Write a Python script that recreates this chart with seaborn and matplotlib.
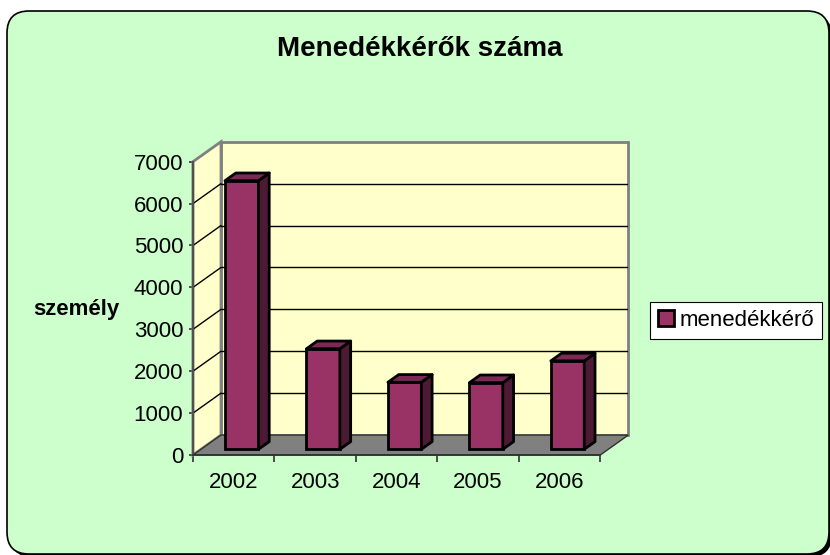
import matplotlib
matplotlib.use('Agg')
import matplotlib.pyplot as plt
from matplotlib.patches import Polygon, FancyBboxPatch, Patch
import seaborn as sns
import pandas as pd

# ==================== DATA ====================
years = ['2002', '2003', '2004', '2005', '2006']
counts = [6410, 2400, 1600, 1590, 2110]
yticks = [0, 1000, 2000, 3000, 4000, 5000, 6000, 7000]
title = 'Menedékkérők száma'
ylabel = 'személy'
series_name = 'menedékkérő'

# ==================== STYLE ====================
sns.set_style('white')
plt.rcParams['font.family'] = ['Liberation Sans', 'DejaVu Sans']
plt.rcParams['text.color'] = 'black'
plt.rcParams['xtick.labelcolor'] = 'black'
plt.rcParams['ytick.labelcolor'] = 'black'

BG = '#CCFFCC'
WALL = '#FFFFCC'
FLOOR = '#808080'
FACE = '#993366'
SIDE = '#4D1A33'
TOP = '#7A2A55'

# 3D depth offset (category units, data units)
DX, DY = 0.344, 476
BAR_FRONT = 0.285   # where the bar's front face sits in the depth
BAR_DEPTH = 0.385   # how deep the bar is

fig = plt.figure(figsize=(8.3, 5.55), dpi=100)
fig.patch.set_facecolor('white')

# chart area: rounded green box with a little shadow (behind the axes)
shadow = FancyBboxPatch((0.10, -0.02), 8.22, 5.43, boxstyle='round,pad=0,rounding_size=0.22',
                        transform=fig.dpi_scale_trans, facecolor='black', edgecolor='none',
                        zorder=-2)
box = FancyBboxPatch((0.07, 0.01), 8.22, 5.43, boxstyle='round,pad=0,rounding_size=0.22',
                     transform=fig.dpi_scale_trans, facecolor=BG, edgecolor='black', linewidth=1.2,
                     zorder=-1)
fig.add_artist(shadow)
fig.add_artist(box)

ax = fig.add_axes([193 / 830, 100 / 555, (628.3 - 193) / 830, (455 - 141.7) / 555])
ax.patch.set_visible(False)

top = yticks[-1]

# walls and floor
back = Polygon([(-0.5 + DX, DY), (4.5 + DX, DY), (4.5 + DX, top + DY), (-0.5 + DX, top + DY)],
               closed=True, facecolor=WALL, edgecolor='#808080', linewidth=2, zorder=0.5, clip_on=False)
left = Polygon([(-0.5, 0), (-0.5 + DX, DY), (-0.5 + DX, top + DY), (-0.5, top)],
               closed=True, facecolor=WALL, edgecolor='#808080', linewidth=2, zorder=0.6, clip_on=False)
floor = Polygon([(-0.5, 0), (4.5, 0), (4.5 + DX, DY), (-0.5 + DX, DY)],
                closed=True, facecolor=FLOOR, edgecolor='#303030', linewidth=1, zorder=1, clip_on=False)
for p in (back, left, floor):
    ax.add_patch(p)

for v in yticks[1:-1]:
    ax.plot([-0.5 + DX, 4.5 + DX], [v + DY, v + DY], color='black', linewidth=1, zorder=0.8)
    ax.plot([-0.5, -0.5 + DX], [v, v + DY], color='black', linewidth=1, zorder=0.8)

# bars (front faces) via seaborn, then push them into the depth and add sides/tops
df = pd.DataFrame({'year': years, 'count': counts})
n_before = len(ax.patches)
sns.barplot(data=df, x='year', y='count', color=FACE, saturation=1, width=0.41,
            edgecolor='black', linewidth=2, ax=ax, zorder=2)
bars = ax.patches[n_before:]
for b in bars:
    b.set_x(b.get_x() + BAR_FRONT * DX)
    b.set_y(BAR_FRONT * DY)
    x0, x1 = b.get_x(), b.get_x() + b.get_width()
    y0, y1 = b.get_y(), b.get_y() + b.get_height()
    ddx, ddy = BAR_DEPTH * DX, BAR_DEPTH * DY
    side = Polygon([(x1, y0), (x1 + ddx, y0 + ddy), (x1 + ddx, y1 + ddy), (x1, y1)],
                   closed=True, facecolor=SIDE, edgecolor='black', linewidth=2, zorder=2,
                   joinstyle='round')
    cap = Polygon([(x0, y1), (x1, y1), (x1 + ddx, y1 + ddy), (x0 + ddx, y1 + ddy)],
                  closed=True, facecolor=TOP, edgecolor='black', linewidth=2, zorder=2,
                  joinstyle='round')
    ax.add_patch(side)
    ax.add_patch(cap)

# axes
ax.set_xlim(-0.5, 4.5 + DX)
ax.set_ylim(0, top + DY)
ax.set_xlabel('')
ax.set_ylabel('')
for s in ('top', 'right'):
    ax.spines[s].set_visible(False)
ax.spines['left'].set_bounds(0, top)
ax.spines['bottom'].set_bounds(-0.5, 4.5)
ax.spines['left'].set_color('#505050')
ax.spines['bottom'].set_color('#303030')
ax.spines['left'].set_linewidth(1.6)
ax.spines['bottom'].set_linewidth(1.2)
ax.spines['left'].set_zorder(3)
ax.spines['bottom'].set_zorder(3)

ax.set_yticks(yticks)
ax.set_yticklabels([str(v) for v in yticks])
ax.tick_params(axis='y', direction='out', length=3, width=1.2, color='#303030',
               labelsize=16, labelcolor='black', pad=4, left=True)
ax.set_xticks(range(len(years)))
ax.set_xticklabels(years)
ax.set_xticks([i - 0.5 for i in range(len(years) + 1)], minor=True)
ax.tick_params(axis='x', which='major', length=0, labelsize=16, labelcolor='black', pad=12, bottom=True)
ax.tick_params(axis='x', which='minor', direction='out', length=5, width=1.2, color='#303030', bottom=True)

# texts
fig.text(419.5 / 830, 1 - 56 / 555, title, ha='center', va='baseline', fontsize=20,
         fontweight='bold', color='black')
fig.text(33 / 830, 1 - 315 / 555, ylabel, ha='left', va='baseline', fontsize=16,
         fontweight='bold', color='black')

# legend
handle = Patch(facecolor=FACE, edgecolor='black', linewidth=2, label=series_name)
leg = fig.legend(handles=[handle], loc='center left', bbox_to_anchor=(650 / 830, 1 - 320.5 / 555),
                 fontsize=16, frameon=True, fancybox=False, framealpha=1, edgecolor='black',
                 handlelength=0.72, handleheight=0.72, handletextpad=0.25, borderpad=0.35,
                 borderaxespad=0, labelcolor='black')
leg.get_frame().set_linewidth(0.8)

fig.savefig('out.png', dpi=100)
